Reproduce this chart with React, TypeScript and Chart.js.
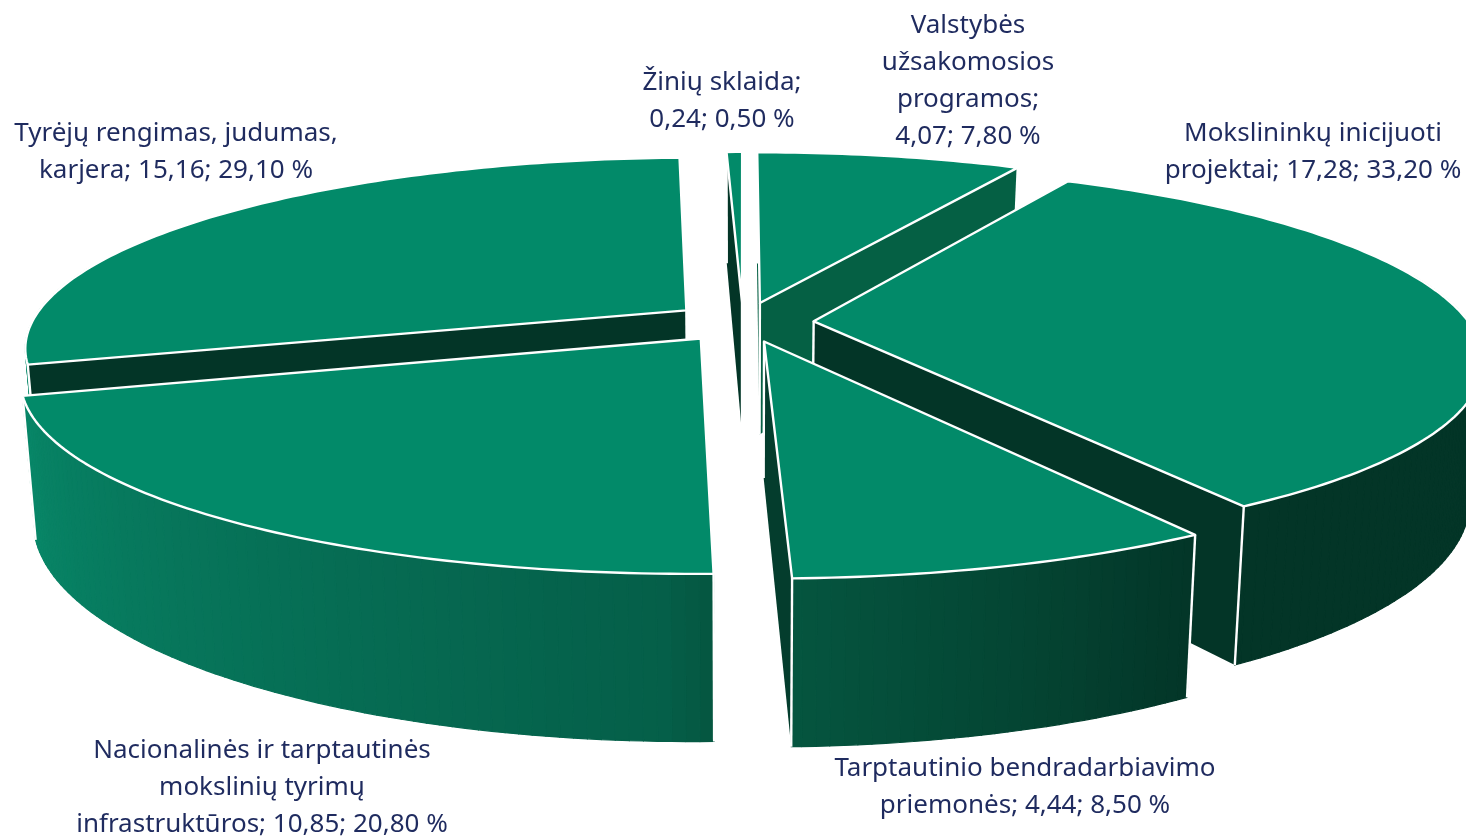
import React, { useEffect, useRef } from "react";
import { Chart, registerables } from "chart.js";

Chart.register(...registerables);

// ---- data ----
const categoryLines = [
  ["Valstybės", "užsakomosios", "programos"],
  ["Mokslininkų inicijuoti", "projektai"],
  ["Tarptautinio bendradarbiavimo", "priemonės"],
  ["Nacionalinės ir tarptautinės", "mokslinių tyrimų", "infrastruktūros"],
  ["Tyrėjų rengimas, judumas,", "karjera"],
  ["Žinių sklaida"],
];
const seriesValues = [4.07, 17.28, 4.44, 10.85, 15.16, 0.24];
const seriesPercents = [7.8, 33.2, 8.5, 20.8, 29.1, 0.5];
const valueOnOwnLine = [true, false, false, false, false, true];

// ---- styles / layout ----
const WIDTH = 1466;
const HEIGHT = 837;
const TOP_COLOR = "#028a69";
const FONT = '26px "Noto Sans", Lato, sans-serif';
const TEXT_COLOR = "#1f2b5f";
const LINE_HEIGHT = 36.8;
const labelCenters = [
  [968, 26],
  [1313, 134],
  [1025, 769],
  [262, 751],
  [176, 134],
  [722, 83],
];
const radialWallColors = ["#056044", "#033527", "#043d2d", "#033527", "#033527", "#033527"];
const wallStops: [number, number[]][] = [
  [147, [3, 53, 39]],
  [178, [5, 85, 63]],
  [182, [5, 95, 73]],
  [253, [8, 135, 104]],
  [270, [8, 138, 106]],
];
const OFFSET = 33;
const RX = 655;
const RY = 185;
const PERSP_X = 0.19;
const PERSP_Y = 0.185;
const DEPTH = 134;
const BOTTOM_SCALE = 0.982;
const STEP = Math.PI / 180;

function wallColor(theta: number) {
  let t = ((theta % 360) + 360) % 360;
  if (t <= wallStops[0][0]) return `rgb(${wallStops[0][1].join(",")})`;
  for (let i = 1; i < wallStops.length; i++) {
    if (t <= wallStops[i][0]) {
      const [a, ca] = wallStops[i - 1];
      const [b, cb] = wallStops[i];
      const f = (t - a) / (b - a);
      return `rgb(${ca.map((c, k) => Math.round(c + (cb[k] - c) * f)).join(",")})`;
    }
  }
  return `rgb(${wallStops[wallStops.length - 1][1].join(",")})`;
}

function labelLines(i: number) {
  const fmt = (v: number) => v.toFixed(2).replace(".", ",");
  const tail = `${fmt(seriesValues[i])}; ${fmt(seriesPercents[i])} %`;
  const lines = [...categoryLines[i]];
  const last = lines.length - 1;
  if (valueOnOwnLine[i]) {
    lines[last] += ";";
    lines.push(tail);
  } else {
    lines[last] += `; ${tail}`;
  }
  return lines;
}

const pie3d = {
  id: "pie3d",
  beforeDatasetDraw(chart: any) {
    const ctx = chart.ctx;
    const arcs = chart.getDatasetMeta(0).data;
    const order = arcs
      .map((el: any, i: number) => {
        const p = el.getProps(["startAngle", "endAngle"], true);
        return { i, b: Math.sin((p.startAngle + p.endAngle) / 2) };
      })
      .sort((m: any, n: any) => m.b - n.b);

    for (const { i } of order) {
      const el = arcs[i];
      const { x, y, startAngle, endAngle, outerRadius } = el.getProps(
        ["x", "y", "startAngle", "endAngle", "outerRadius"],
        true
      );
      const mid = (startAngle + endAngle) / 2;
      const off = el.options.offset / outerRadius;
      const ox = off * Math.cos(mid);
      const oy = off * Math.sin(mid);
      const project = (a: number, b: number, lower: boolean) => {
        const wx = 1 / (1 - PERSP_X * b);
        const wy = 1 / (1 - PERSP_Y * b);
        let sx = RX * a * wx;
        let sy = y + RY * b * wy;
        if (lower) {
          sx *= BOTTOM_SCALE;
          sy += DEPTH * wy;
        }
        return [x + sx, sy];
      };
      const rim = (phi: number, lower: boolean) =>
        project(ox + Math.cos(phi), oy + Math.sin(phi), lower);
      const poly = (pts: number[][]) => {
        ctx.beginPath();
        pts.forEach((p, k) => (k ? ctx.lineTo(p[0], p[1]) : ctx.moveTo(p[0], p[1])));
        ctx.closePath();
      };
      const angles: number[] = [];
      for (let a = startAngle; a < endAngle; a += STEP) angles.push(a);
      angles.push(endAngle);

      const apexTop = project(ox, oy, false);
      const apexBot = project(ox, oy, true);
      const camB = 1 / PERSP_X;
      const startFacing =
        -ox * Math.sin(startAngle) + (camB - oy) * -Math.cos(startAngle) > 0;
      const endFacing =
        -ox * -Math.sin(endAngle) + (camB - oy) * Math.cos(endAngle) > 0;

      ctx.save();
      ctx.lineJoin = "round";
      // curved outer wall, in narrow bands shaded by direction
      for (let k = 0; k < angles.length - 1; k++) {
        const a0 = angles[k];
        const a1 = angles[k + 1];
        if (Math.sin((a0 + a1) / 2) < -0.25) continue;
        const col = wallColor(((a0 + a1) / 2 + Math.PI / 2) * (180 / Math.PI));
        poly([rim(a0, false), rim(a1, false), rim(a1, true), rim(a0, true)]);
        ctx.fillStyle = col;
        ctx.strokeStyle = col;
        ctx.lineWidth = 1.2;
        ctx.fill();
        ctx.stroke();
      }
      // radial walls that face the viewer
      const facing = [
        [startAngle, startFacing],
        [endAngle, endFacing],
      ].filter((f) => f[1]);
      for (const [phi] of facing as number[][]) {
        poly([apexTop, rim(phi, false), rim(phi, true), apexBot]);
        ctx.fillStyle = radialWallColors[i];
        ctx.fill();
      }
      ctx.strokeStyle = "#ffffff";
      ctx.lineWidth = 2.4;
      // white vertical edges
      if (facing.length) {
        ctx.beginPath();
        ctx.moveTo(apexTop[0], apexTop[1]);
        ctx.lineTo(apexBot[0], apexBot[1]);
        ctx.stroke();
      }
      for (const phi of [startAngle, endAngle]) {
        const t = rim(phi, false);
        const b = rim(phi, true);
        ctx.beginPath();
        ctx.moveTo(t[0], t[1]);
        ctx.lineTo(b[0], b[1]);
        ctx.stroke();
      }
      // top face
      poly([apexTop, ...angles.map((a) => rim(a, false))]);
      ctx.fillStyle = el.options.backgroundColor;
      ctx.fill();
      ctx.stroke();
      ctx.restore();
    }
    return false;
  },
  afterDraw(chart: any) {
    const ctx = chart.ctx;
    ctx.save();
    ctx.font = FONT;
    ctx.fillStyle = TEXT_COLOR;
    ctx.textAlign = "center";
    ctx.textBaseline = "middle";
    categoryLines.forEach((_, i) => {
      labelLines(i).forEach((line, k) => {
        ctx.fillText(line, labelCenters[i][0], labelCenters[i][1] + k * LINE_HEIGHT);
      });
    });
    ctx.restore();
  },
};

export default function App() {
  const ref = useRef<HTMLCanvasElement>(null);
  useEffect(() => {
    document.body.style.margin = "0";
    document.body.style.background = "#ffffff";
    const chart = new Chart(ref.current as HTMLCanvasElement, {
      type: "pie",
      data: {
        labels: categoryLines.map((l) => l.join(" ")),
        datasets: [
          {
            data: seriesValues,
            backgroundColor: TOP_COLOR,
            borderWidth: 0,
            offset: OFFSET,
          },
        ],
      },
      options: {
        responsive: false,
        animation: false,
        events: [],
        rotation: 0,
        layout: { padding: { left: 20, right: 0, top: 0, bottom: 193 } },
        plugins: { legend: { display: false }, tooltip: { enabled: false } },
      },
      plugins: [pie3d],
    } as any);
    return () => chart.destroy();
  }, []);
  return <canvas ref={ref} width={WIDTH} height={HEIGHT} style={{ display: "block" }} />;
}
